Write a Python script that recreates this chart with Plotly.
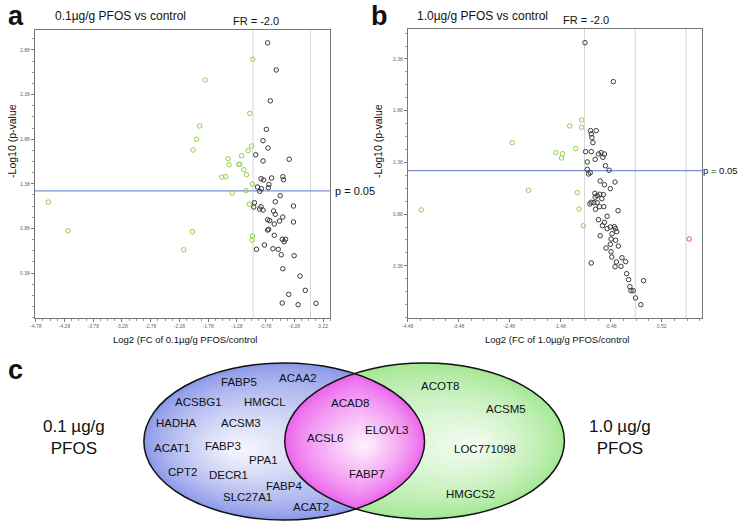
import numpy as np
import plotly.graph_objects as go

# ---------------- data ----------------
# Panel a: 0.1 ug/g PFOS vs control  (x = log2 FC, y = -log10 p)
a_green_x = [-1.004, -1.832, -1.056, -1.930, -1.982, -2.044, -1.027, -1.085, -1.199, -1.435,
             -1.418, -1.246, -1.232, -1.159, -1.113, -1.544, -1.475, -1.009, -1.361, -1.120,
             -4.561, -1.068, -4.216, -2.056, -1.009, -1.016, -2.206]
a_green_y = [2.776, 2.544, 2.170, 2.028, 1.879, 1.759, 1.804, 1.751, 1.695, 1.661,
             1.594, 1.598, 1.600, 1.538, 1.482, 1.456, 1.460, 1.378, 1.277, 1.303,
             1.176, 1.150, 0.854, 0.843, 0.795, 0.750, 0.641]
a_black_x = [-0.746, -0.596, -0.699, -0.768, -0.826, -0.740, -0.953, -0.371, -0.826, -0.861,
             -0.815, -0.677, -0.482, -0.470, -0.723, -0.733, -0.923, -0.854, -0.884, -0.527,
             -0.975, -0.613, -0.987, -0.297, -0.884, -0.861, -0.826, -0.642, -0.613, -0.746,
             -0.711, -0.482, -0.539, -0.630, -0.297, -0.728, -0.746, -0.630, -0.492, -0.435,
             -0.458, -0.802, -0.940, -0.654, -0.561, -0.509, -0.285, -0.482, -0.182, -0.090,
             -0.378, -0.492, -0.216, 0.094]
a_black_y = [2.960, 2.656, 2.310, 1.990, 1.863, 1.781, 1.706, 1.655, 1.636, 1.437,
             1.423, 1.445, 1.460, 1.426, 1.374, 1.336, 1.344, 1.325, 1.296, 1.247,
             1.168, 1.179, 1.120, 1.131, 1.097, 1.123, 1.086, 1.075, 1.038, 0.978,
             0.967, 1.008, 0.963, 0.929, 0.952, 0.870, 0.862, 0.803, 0.758, 0.758,
             0.731, 0.694, 0.646, 0.652, 0.646, 0.585, 0.574, 0.428, 0.346, 0.186,
             0.141, 0.044, 0.025, 0.040]

# Panel b: 1.0 ug/g PFOS vs control
b_green_x = [-1.056, -1.290, -1.056, -2.423, -1.173, -1.564, -1.433, -1.453, -2.103, -4.212,
             -1.140, -1.107, -1.023]
b_green_y = [1.790, 1.732, 1.719, 1.571, 1.513, 1.474, 1.464, 1.423, 1.110, 0.920,
             1.087, 0.929, 0.768]
b_black_x = [-0.990, -0.431, -0.880, -0.769, -0.867, -0.853, -0.834, -0.978, -0.867, -0.724,
             -0.672, -0.607, -0.638, -0.789, -0.945, -0.587, -0.945, -0.886, -0.919, -0.515,
             -0.691, -0.607, -0.398, -0.490, -0.795, -0.750, -0.697, -0.627, -0.789, -0.658,
             -0.867, -0.892, -0.814, -0.750, -0.704, -0.619, -0.783, -0.339, -0.554, -0.724,
             -0.607, -0.646, -0.554, -0.490, -0.412, -0.392, -0.365, -0.457, -0.691, -0.476,
             -0.386, -0.490, -0.333, -0.574, -0.476, -0.462, -0.261, -0.372, -0.189, -0.867,
             -0.398, -0.281, -0.170, -0.131, 0.163, -0.105, -0.085, -0.040, 0.006, 0.110]
b_black_y = [2.538, 2.161, 1.687, 1.687, 1.655, 1.619, 1.571, 1.484, 1.484, 1.461,
             1.474, 1.461, 1.429, 1.410, 1.384, 1.348, 1.313, 1.280, 1.268, 1.304,
             1.200, 1.164, 1.190, 1.126, 1.081, 1.058, 1.072, 1.068, 1.043, 1.029,
             0.994, 0.978, 0.990, 0.990, 0.952, 0.952, 0.927, 0.913, 0.859, 0.826,
             0.800, 0.768, 0.739, 0.755, 0.758, 0.739, 0.710, 0.690, 0.671, 0.639,
             0.627, 0.588, 0.571, 0.552, 0.516, 0.465, 0.458, 0.417, 0.420, 0.407,
             0.371, 0.375, 0.304, 0.246, 0.236, 0.178, 0.139, 0.139, 0.069, 0.004]
b_red_x = [1.061]
b_red_y = [0.639]

# tick labels
a_xticks = [-4.78, -4.28, -3.78, -3.28, -2.78, -2.28, -1.78, -1.28, -0.78, -0.28, 0.22]
a_yticks = [2.88, 2.38, 1.88, 1.38, 0.88, 0.38]
b_xticks = [-4.48, -3.48, -2.48, -1.48, -0.48, 0.52]
b_yticks = [2.38, 1.88, 1.38, 0.88, 0.38]

a_vlines = [-1.0, 0.0]
b_vlines = [-1.0, 0.0, 1.0]
p_cut = 1.301  # -log10(0.05)

# Venn content
venn_left_genes = ["FABP5", "ACAA2", "ACSBG1", "HMGCL", "HADHA", "ACSM3", "ACAT1", "FABP3",
                   "PPA1", "CPT2", "DECR1", "FABP4", "SLC27A1", "ACAT2"]
venn_left_pos = [(235, 382), (294, 378), (194, 402), (261, 402), (172, 423), (237, 423),
                 (167, 448), (219, 446), (260, 460), (178, 472), (224, 475), (280, 486),
                 (243, 497), (307, 507)]
venn_mid_genes = ["ACAD8", "ACSL6", "ELOVL3", "FABP7"]
venn_mid_pos = [(347, 403), (322, 438), (384, 430), (364, 474)]
venn_right_genes = ["ACOT8", "ACSM5", "LOC771098", "HMGCS2"]
venn_right_pos = [(438, 386), (504, 409), (483, 449), (468, 494)]

FONT = "Arial, Liberation Sans, sans-serif"
W, H = 739, 522

fig = go.Figure()

def pts(x, y, color, xa, ya):
    fig.add_trace(go.Scatter(x=x, y=y, mode="markers", xaxis=xa, yaxis=ya,
                             marker=dict(symbol="circle-open", size=4.5, color=color,
                                         line=dict(width=1, color=color)),
                             hoverinfo="skip", showlegend=False))

pts(a_green_x, a_green_y, "#8fd04c", "x", "y")
pts(a_black_x, a_black_y, "#3a3a3a", "x", "y")
pts(b_green_x, b_green_y, "#8fd04c", "x2", "y2")
pts(b_black_x, b_black_y, "#3a3a3a", "x2", "y2")
pts(b_red_x, b_red_y, "#e0506e", "x2", "y2")

shapes = []
annotations = []

# reference lines
for v in a_vlines:
    shapes.append(dict(type="line", xref="x", yref="y domain", x0=v, x1=v, y0=0, y1=1,
                       line=dict(color="#d6d6d6", width=1), layer="below"))
for v in b_vlines:
    shapes.append(dict(type="line", xref="x2", yref="y2 domain", x0=v, x1=v, y0=0, y1=1,
                       line=dict(color="#d6d6d6", width=1), layer="below"))
shapes.append(dict(type="line", xref="x domain", yref="y", x0=0, x1=1, y0=p_cut, y1=p_cut,
                   line=dict(color="#7b8fd6", width=1.2), layer="below"))
shapes.append(dict(type="line", xref="x2 domain", yref="y2", x0=0, x1=1, y0=p_cut, y1=p_cut,
                   line=dict(color="#7b8fd6", width=1.2), layer="below"))

# ---------------- Venn diagram (pixel coordinates on x3/y3) ----------------
L = dict(cx=280.5, cy=441.5, rx=141.5, ry=78.5)
R = dict(cx=422.0, cy=441.0, rx=141.0, ry=78.0)

def lerp(c1, c2, t):
    return "rgb(%d,%d,%d)" % tuple(round(a + (b - a) * t) for a, b in zip(c1, c2))

def gradient_ellipse(e, focus, edge, center, n=28):
    fx, fy = focus
    for k in range(n):
        t = k / n
        s = 1 - t * 0.97
        x0 = fx + (e["cx"] - e["rx"] - fx) * s
        x1 = fx + (e["cx"] + e["rx"] - fx) * s
        y0 = fy + (e["cy"] - e["ry"] - fy) * s
        y1 = fy + (e["cy"] + e["ry"] - fy) * s
        shapes.append(dict(type="circle", xref="x3", yref="y3", x0=x0, x1=x1, y0=y0, y1=y1,
                           fillcolor=lerp(edge, center, t ** 0.8), line=dict(width=0),
                           layer="below"))

gradient_ellipse(L, (232, 450), (140, 152, 232), (246, 247, 253))
gradient_ellipse(R, (472, 446), (165, 232, 148), (244, 252, 242))

# lens (intersection) polygon
th = np.linspace(0, 2 * np.pi, 1441)
def inside(px, py, e):
    return ((px - e["cx"]) / e["rx"]) ** 2 + ((py - e["cy"]) / e["ry"]) ** 2 <= 1.0
lx = L["cx"] + L["rx"] * np.cos(th); ly = L["cy"] + L["ry"] * np.sin(th)
rx_ = R["cx"] + R["rx"] * np.cos(th); ry_ = R["cy"] + R["ry"] * np.sin(th)
px = np.concatenate([lx[inside(lx, ly, R)], rx_[inside(rx_, ry_, L)]])
py = np.concatenate([ly[inside(lx, ly, R)], ry_[inside(rx_, ry_, L)]])
mx, my = px.mean(), py.mean()
order = np.argsort(np.arctan2(py - my, px - mx))
px, py = px[order], py[order]
px = np.append(px, px[0]); py = np.append(py, py[0])
fx, fy = 362, 446
n = 28
for k in range(n):
    t = k / n
    s = 1 - t * 0.97
    fig.add_trace(go.Scatter(x=fx + (px - fx) * s, y=fy + (py - fy) * s, xaxis="x3", yaxis="y3",
                             mode="lines", fill="toself", line=dict(width=0),
                             fillcolor=lerp((236, 100, 236), (253, 240, 253), t ** 0.8),
                             hoverinfo="skip", showlegend=False))

for e in (L, R):
    shapes.append(dict(type="circle", xref="x3", yref="y3",
                       x0=e["cx"] - e["rx"], x1=e["cx"] + e["rx"],
                       y0=e["cy"] - e["ry"], y1=e["cy"] + e["ry"],
                       line=dict(color="#111111", width=1.5), fillcolor="rgba(0,0,0,0)",
                       layer="above"))

for names, pos in ((venn_left_genes, venn_left_pos), (venn_mid_genes, venn_mid_pos),
                   (venn_right_genes, venn_right_pos)):
    for g, (gx, gy) in zip(names, pos):
        annotations.append(dict(x=gx, y=gy, xref="x3", yref="y3", text=g, showarrow=False,
                                font=dict(family=FONT, size=11.5, color="#111")))

annotations.append(dict(x=69, y=437, xref="x3", yref="y3", text="0.1 µg/g<br>PFOS",
                        showarrow=False, font=dict(family=FONT, size=17, color="#111")))
annotations.append(dict(x=619, y=437, xref="x3", yref="y3", text="1.0 µg/g<br>PFOS",
                        showarrow=False, font=dict(family=FONT, size=17, color="#111")))

# ---------------- text for panels ----------------
def ptext(x, y, text, size, bold=False, angle=0, xanchor="center", color="#111"):
    annotations.append(dict(x=x / W, y=1 - y / H, xref="paper", yref="paper",
                            text=("<b>%s</b>" % text) if bold else text, showarrow=False,
                            textangle=angle, xanchor=xanchor, yanchor="middle",
                            font=dict(family=FONT, size=size, color=color)))

ptext(10, 16, "a", 27, bold=True)
ptext(377, 16, "b", 27, bold=True)
ptext(10, 370, "c", 27, bold=True)
ptext(115, 16, "0.1µg/g PFOS vs control", 12)
ptext(480, 16, "1.0µg/g PFOS vs control", 12)
ptext(6, 141, "-Log10 (p-value", 10.5, angle=-90)
ptext(375, 141, "-Log10 (p-value", 10.5, angle=-90)
ptext(180, 339, "Log2 (FC of 0.1µg/g PFOS/control", 9.5)
ptext(556, 339, "Log2 (FC of 1.0µg/g PFOS/control", 9.5)

annotations.append(dict(x=-1.0, y=1, xref="x", yref="y domain", yanchor="bottom", yshift=1,
                        text="FR = -2.0", showarrow=False, xshift=3,
                        font=dict(family=FONT, size=11, color="#111")))
annotations.append(dict(x=-1.0, y=1, xref="x2", yref="y2 domain", yanchor="bottom", yshift=1,
                        text="FR = -2.0", showarrow=False, xshift=2,
                        font=dict(family=FONT, size=11, color="#111")))
annotations.append(dict(x=1, y=p_cut, xref="x domain", yref="y", xanchor="left", xshift=3,
                        text="p = 0.05", showarrow=False,
                        font=dict(family=FONT, size=11, color="#111")))
annotations.append(dict(x=1, y=p_cut, xref="x2 domain", yref="y2", xanchor="left", xshift=-1,
                        text="p = 0.05", showarrow=False,
                        font=dict(family=FONT, size=9.5, color="#111")))

def axis(domain, rng, ticks, minor_d, anchor):
    return dict(domain=domain, range=rng, anchor=anchor, tickmode="array", tickvals=ticks,
                ticktext=["%.2f" % t for t in ticks], ticks="outside", ticklen=3,
                tickwidth=1, tickcolor="#777", showgrid=False, zeroline=False,
                showline=True, linecolor="#777", linewidth=1, mirror=True,
                tickfont=dict(family=FONT, size=5, color="#666"),
                minor=dict(tickmode="linear", tick0=ticks[0], dtick=minor_d, ticks="outside",
                           ticklen=2, tickcolor="#999", showgrid=False))

fig.update_layout(
    width=W, height=H, margin=dict(l=0, r=0, t=0, b=0),
    paper_bgcolor="white", plot_bgcolor="white", showlegend=False,
    xaxis=axis([29 / W, 327 / W], [-4.797, 0.345], a_xticks, 0.125, "y"),
    yaxis=axis([1 - 318 / H, 1 - 30 / H], [-0.124, 3.104], a_yticks, 0.125, "x"),
    xaxis2=axis([405 / W, 702 / W], [-4.48, 1.32], b_xticks, 0.25, "y2"),
    yaxis2=axis([1 - 318 / H, 1 - 29 / H], [-0.125, 2.67], b_yticks, 0.125, "x2"),
    xaxis3=dict(domain=[0, 1], range=[0, W], visible=False, anchor="y3", fixedrange=True),
    yaxis3=dict(domain=[0, 1 - 330 / H], range=[H, 330], visible=False, anchor="x3",
                fixedrange=True),
    shapes=shapes, annotations=annotations,
)

fig.write_html("out.html", config={"displayModeBar": False},
               post_script="document.body.style.margin='0px';document.body.style.overflow='hidden';")
